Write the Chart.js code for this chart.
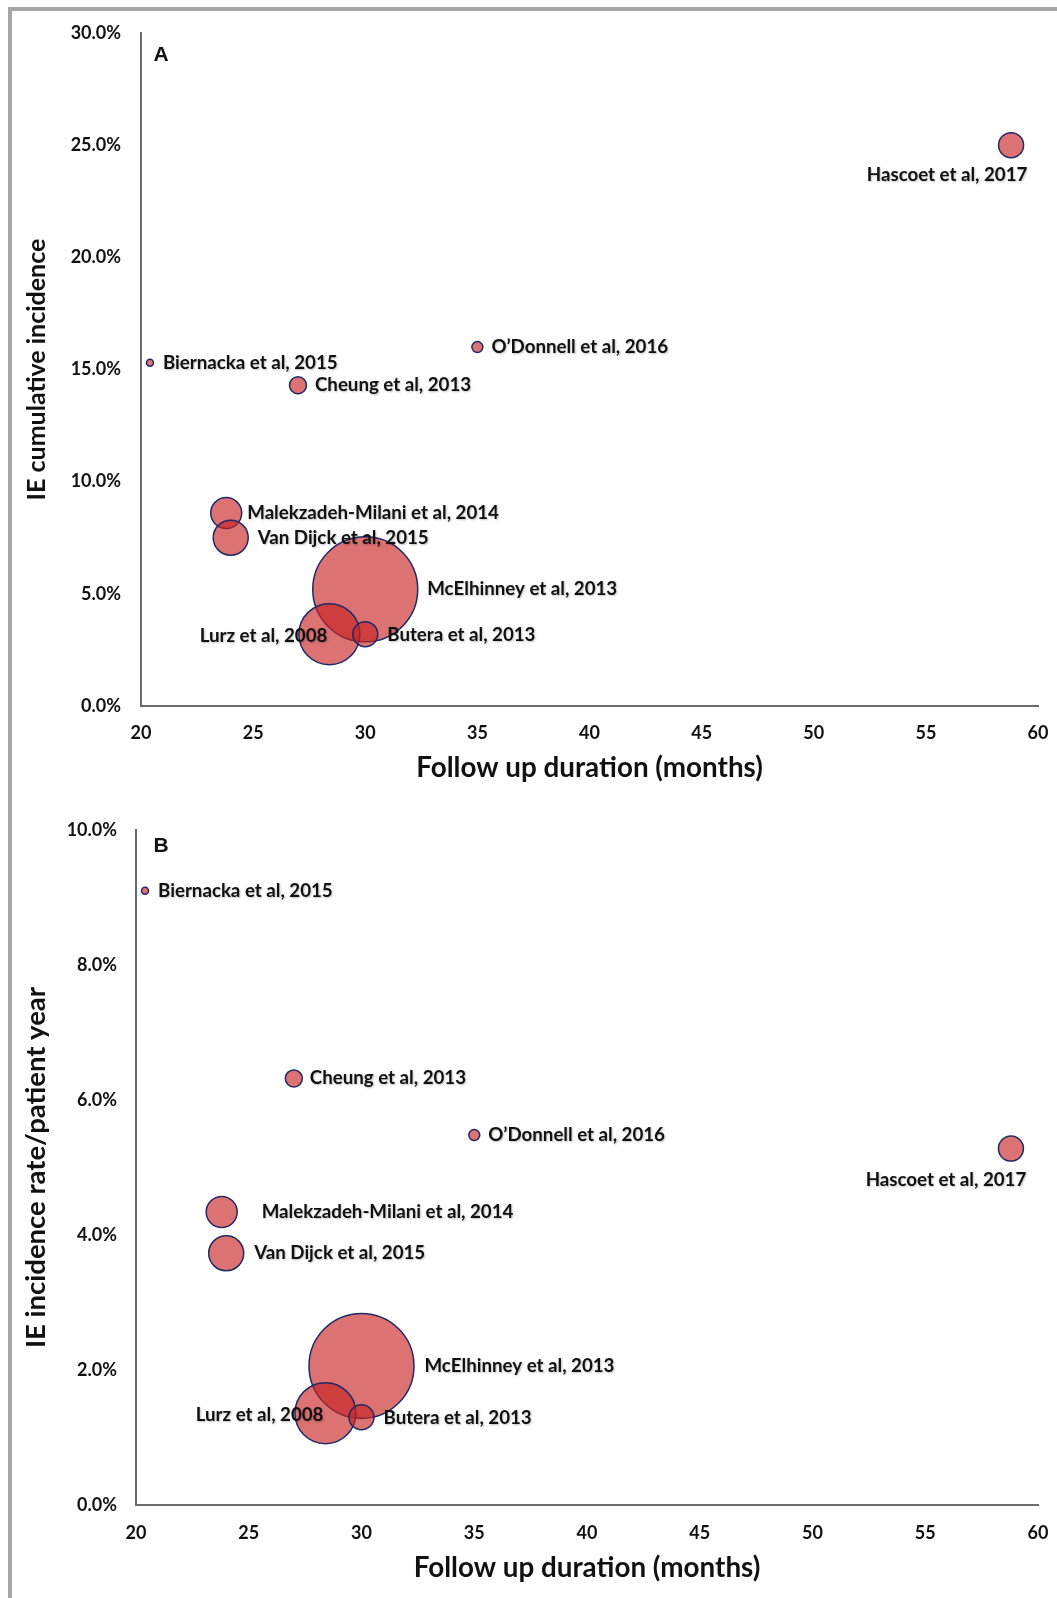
<!DOCTYPE html>
<html>
<head>
<meta charset="utf-8">
<script src="https://cdn.jsdelivr.net/npm/chart.js@4"></script>
<style>
  html, body { margin: 0; padding: 0; background: #fff; }
  #wrap { position: relative; width: 1057px; height: 1598px; overflow: hidden; }
  #frame { position: absolute; left: 8px; top: 7px; right: 0; bottom: 0;
           border-left: 4px solid #a6a6a6; border-top: 4px solid #a6a6a6; }
  canvas { position: absolute; left: 0; }
  #chartA { top: 0; }
  #chartB { top: 790px; }
</style>
</head>
<body>
<div id="wrap">
  <div id="frame"></div>
  <canvas id="chartA" width="1057" height="790"></canvas>
  <canvas id="chartB" width="1057" height="808"></canvas>
</div>
<script>
// studies, same order in both panels
const studies = [
  'Hascoet et al, 2017', 'O\u2019Donnell et al, 2016', 'Biernacka et al, 2015',
  'Cheung et al, 2013', 'Malekzadeh-Milani et al, 2014', 'Van Dijck et al, 2015',
  'McElhinney et al, 2013', 'Lurz et al, 2008', 'Butera et al, 2013'
];
// follow up duration (months)
const followUp = [58.8, 35.0, 20.4, 27.0, 23.8, 24.0, 30.0, 28.4, 30.0];
// panel A: IE cumulative incidence (%)
const cumIncidence = [25.0, 16.0, 15.3, 14.3, 8.6, 7.5, 5.2, 3.2, 3.2];
// panel B: IE incidence rate / patient year (%)
const incidenceRate = [5.28, 5.48, 9.1, 6.32, 4.34, 3.73, 2.06, 1.36, 1.3];
// bubble size (study weight)
const bubbleSize = [12.5, 5.5, 3.5, 8.5, 15.5, 17.5, 52.5, 30.5, 12.5];

const xTicks = [20, 25, 30, 35, 40, 45, 50, 55, 60];

// label placement [dx, dy, align] relative to bubble centre
const labelPosA = [[-64, 30, 'center'], [14, 0, 'left'], [13, 0, 'left'], [17, 0, 'left'],
  [21, 0, 'left'], [27, 0, 'left'], [62, 0, 'left'], [-2, 2, 'right'], [22, 1, 'left']];
const labelPosB = [[-65, 31, 'center'], [14, 0, 'left'], [13, 0, 'left'], [16, 0, 'left'],
  [40, 0, 'left'], [28, 0, 'left'], [63, 0, 'left'], [-2, 2, 'right'], [22, 1, 'left']];

const labelFont = 'Lato, "Open Sans", sans-serif';

const studyLabels = {
  id: 'studyLabels',
  afterDatasetsDraw(chart, args, opts) {
    const ctx = chart.ctx;
    const meta = chart.getDatasetMeta(0);
    ctx.save();
    ctx.fillStyle = '#111';
    ctx.textBaseline = 'middle';
    ctx.font = 'bold 18.7px ' + labelFont;
    ctx.shadowColor = 'rgba(0,0,0,0.25)';
    ctx.shadowBlur = 2;
    ctx.shadowOffsetX = 1;
    ctx.shadowOffsetY = 1;
    meta.data.forEach(function(pt, i) {
      const o = opts.pos[i];
      ctx.textAlign = o[2];
      ctx.fillText(studies[i], pt.x + o[0], pt.y + o[1]);
    });
    ctx.shadowColor = 'transparent';
    ctx.font = 'bold 21px "Liberation Sans", Arial, sans-serif';
    ctx.textAlign = 'center';
    ctx.fillText(opts.panel, chart.chartArea.left + opts.panelAt[0], chart.chartArea.top + opts.panelAt[1]);
    ctx.restore();
  }
};

function makeChart(id, yValues, yMax, yStep, yTitle, cfg) {
  const points = followUp.map(function(x, i) {
    return { x: x, y: yValues[i], r: bubbleSize[i] };
  });
  return new Chart(document.getElementById(id), {
    type: 'bubble',
    data: {
      datasets: [{
        data: points,
        backgroundColor: 'rgba(200, 35, 35, 0.64)',
        borderColor: '#1f2a66',
        borderWidth: 1.5
      }]
    },
    options: {
      responsive: false,
      animation: false,
      layout: { autoPadding: false, padding: { top: cfg.top, right: 19, left: 0, bottom: 0 } },
      plugins: {
        legend: { display: false },
        tooltip: { enabled: false },
        studyLabels: { pos: cfg.labelPos, panel: cfg.panel, panelAt: cfg.panelAt }
      },
      scales: {
        x: {
          type: 'linear',
          min: 20, max: 60,
          afterFit: function(s) { s.height = cfg.xHeight; s.paddingRight = 0; s.paddingLeft = 0; },
          afterBuildTicks: function(s) { s.ticks = xTicks.map(function(v) { return { value: v }; }); },
          grid: { display: true, drawOnChartArea: false, drawTicks: false },
          border: { display: true, color: '#6b6b6b', width: 2 },
          ticks: { padding: cfg.xPad, color: '#111', font: { family: labelFont, size: 18, weight: 'bold' } },
          title: {
            display: true, text: 'Follow up duration (months)', color: '#111',
            font: { family: labelFont, size: 27.8, weight: 'bold' },
            padding: { top: 0, bottom: cfg.xTitlePad }
          }
        },
        y: {
          min: 0, max: yMax,
          afterFit: function(s) { s.width = cfg.yWidth; s.paddingTop = 0; s.paddingBottom = 0; },
          grid: { display: true, drawOnChartArea: false, drawTicks: false },
          border: { display: true, color: '#6b6b6b', width: 2 },
          ticks: {
            stepSize: yStep, padding: cfg.yPad, color: '#111',
            font: { family: labelFont, size: 18, weight: 'bold' },
            callback: function(v) { return v.toFixed(1) + '%'; }
          },
          title: {
            display: true, text: yTitle, color: '#111',
            font: { family: labelFont, size: cfg.yTitleSize, weight: 'bold' },
            padding: { top: cfg.yTitlePad, bottom: 0 }
          }
        }
      }
    },
    plugins: [studyLabels]
  });
}

makeChart('chartA', cumIncidence, 30, 5, 'IE cumulative incidence', {
  top: 33, xHeight: 84, yWidth: 141, xPad: 16, yPad: 20, xTitlePad: 5,
  yTitleSize: 25, yTitlePad: 22,
  labelPos: labelPosA, panel: 'A', panelAt: [20, 22]
});
makeChart('chartB', incidenceRate, 10, 2, 'IE incidence rate/patient year', {
  top: 40, xHeight: 93, yWidth: 136, xPad: 17, yPad: 19, xTitlePad: 13,
  yTitleSize: 27.5, yTitlePad: 20,
  labelPos: labelPosB, panel: 'B', panelAt: [25, 16]
});
</script>
</body>
</html>
